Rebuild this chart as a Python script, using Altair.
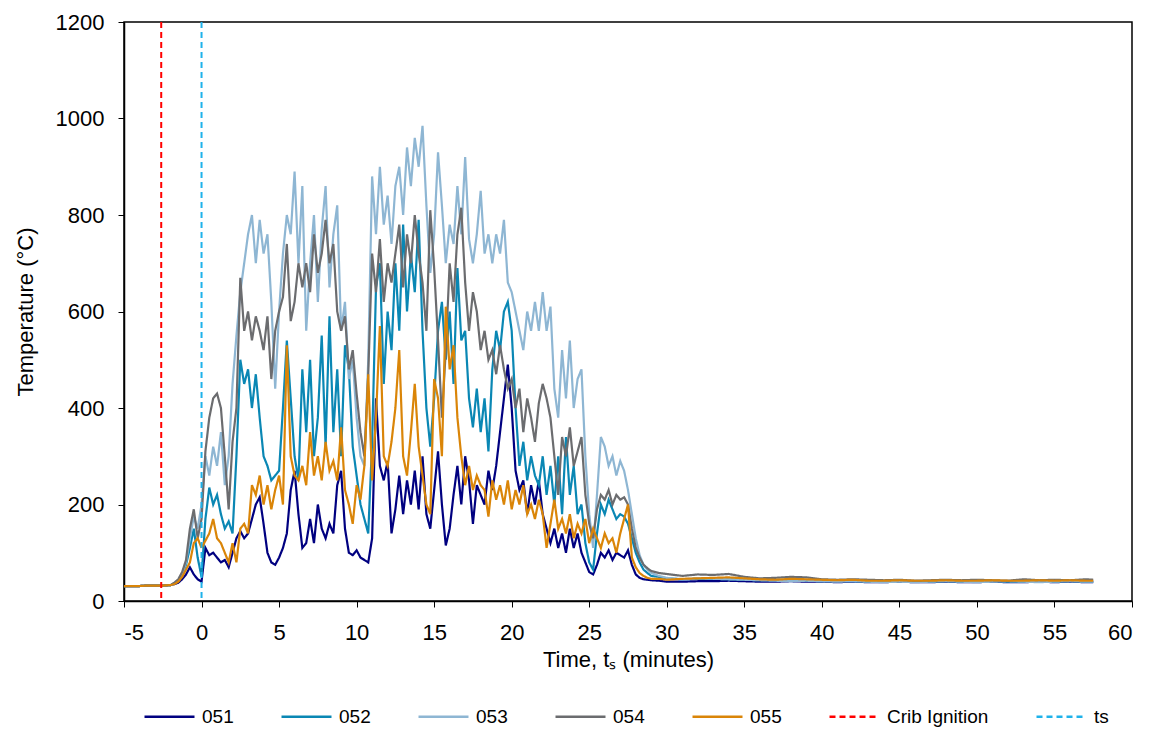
import altair as alt
import numpy as np
import pandas as pd

# ---- time grids (minutes, relative to ts) ----
t_lead = [-5.0, -4.5, -4.0, -3.5, -3.0, -2.5]
t_fire = [round(v, 2) for v in np.arange(-2.0, 29.01, 0.25)]
t_tail = [29.5] + [float(v) for v in range(30, 58)] + [57.5]

series_names = ["051", "052", "053", "054", "055"]

lead_051 = [31, 31, 31, 32, 32, 32]
lead_052 = [31, 31, 31, 32, 32, 32]
lead_053 = [31, 31, 31, 32, 32, 32]
lead_054 = [31, 31, 31, 32, 32, 32]
lead_055 = [31, 31, 31, 32, 32, 32]

fire_051 = [33, 35, 38, 45, 55, 70, 55, 45,
            40, 110, 95, 100, 90, 80, 85, 70,
            100, 130, 145, 130, 140, 170, 200, 215,
            160, 100, 80, 75, 90, 110, 140, 230,
            270, 180, 110, 120, 170, 120, 200, 150,
            130, 160, 140, 240, 270, 150, 100, 95,
            105, 90, 85, 80, 130, 420, 280, 250,
            290, 140, 190, 260, 180, 250, 200, 270,
            190, 300, 180, 150, 230, 310, 200, 115,
            150, 220, 280, 200, 300, 250, 160, 240,
            220, 200, 270, 230, 280, 350, 420, 490,
            400, 270, 230, 250, 180, 240, 200, 250,
            180, 150, 120, 150, 110, 140, 100, 150,
            110, 140, 100, 80, 60, 55, 75, 100,
            90, 105, 85, 100, 95, 90, 105, 75,
            55, 48, 45, 44, 43]

fire_052 = [33, 36, 42, 55, 75, 110, 150, 90,
            50, 170, 235, 200, 220, 180, 150, 165,
            140, 300, 500, 450, 480, 400, 470, 380,
            300, 280, 250, 260, 270, 400, 540, 420,
            300, 250, 480, 350, 500, 300, 380, 550,
            320, 590, 350, 480, 300, 530, 480, 320,
            260, 200, 170, 140, 330, 650, 700, 450,
            600, 520, 700, 560, 780, 600, 720, 640,
            790, 560, 400, 320, 420, 560, 620, 500,
            600, 450, 690, 540, 560, 420, 360, 440,
            350, 420, 310, 480, 560, 520, 600, 620,
            560, 400, 280, 330, 250, 300, 260, 240,
            300, 220, 280, 200, 300, 180, 340, 220,
            280, 180, 200, 120, 80, 65, 140, 200,
            180, 210, 190, 170, 180, 175, 160, 130,
            100, 80, 65, 58, 52]

fire_053 = [33, 36, 42, 55, 80, 130, 175, 150,
            200, 300, 260, 320, 280, 350, 240, 300,
            450, 550, 640, 700, 760, 800, 700, 790,
            720, 760, 620, 440, 600, 720, 800, 760,
            890, 700, 860, 560, 700, 800, 620, 770,
            860, 650, 760, 820, 560, 620, 460, 500,
            380, 300, 280, 500, 880, 760, 900, 780,
            840, 740, 860, 900, 800, 940, 860, 960,
            900, 985, 820, 680, 760, 930, 820, 700,
            780, 740, 860, 760, 920, 750, 700, 760,
            850, 720, 760, 700, 760, 720, 790, 660,
            640, 600, 560, 520, 600, 560, 620, 560,
            640, 560, 610, 440, 380, 520, 420, 540,
            400, 460, 480, 300, 180, 110, 220, 340,
            320, 280, 300, 260, 290, 270, 230, 180,
            130, 95, 75, 65, 58]

fire_054 = [33, 38, 45, 60, 85, 150, 190, 130,
            170, 310, 380, 420, 430, 400, 300, 190,
            330, 400, 670, 560, 600, 540, 590, 560,
            520, 590, 460, 560, 600, 630, 740, 580,
            620, 700, 650, 700, 640, 760, 680, 720,
            790, 700, 740, 600, 560, 590, 480, 520,
            430, 350, 300, 470, 720, 640, 750, 620,
            700, 660, 720, 780, 650, 760, 700, 800,
            720, 660, 560, 810, 690, 540, 380, 520,
            700, 620, 760, 815, 660, 560, 640, 600,
            520, 560, 500, 520, 470, 530, 480, 440,
            460, 400, 440, 350, 420, 380, 330, 410,
            450, 420, 380, 300, 220, 340, 300, 360,
            280, 310, 340, 220, 160, 130, 190, 220,
            210, 230, 200, 220, 210, 215, 200, 150,
            110, 90, 75, 68, 62]

fire_055 = [33, 35, 40, 50, 65, 80, 120, 130,
            110, 125, 140, 170, 130, 120, 100, 80,
            120, 80, 150, 160, 140, 240, 220, 260,
            200, 240, 190, 230, 260, 200, 530, 300,
            260, 250, 280, 240, 350, 260, 300, 250,
            330, 270, 290, 250, 360, 230, 200, 160,
            240, 210, 280, 470, 250, 380, 570, 300,
            280, 330, 400, 520, 300, 260, 350, 450,
            320, 260, 200, 180, 460, 420, 300, 610,
            480, 530, 380, 300, 240, 280, 230, 260,
            240, 230, 175, 250, 210, 240, 200, 250,
            190, 230, 200, 240, 180, 200, 170, 210,
            180, 110, 160, 210, 150, 170, 140, 180,
            130, 160, 140, 170, 120, 150, 130, 110,
            140, 120, 130, 100, 140, 170, 200, 90,
            70, 58, 52, 48, 46]

tail_051 = [42, 40, 40, 41, 41, 42, 41, 40, 40, 41, 40, 40, 39, 40, 39,
            39, 40, 39, 39, 40, 39, 39, 40, 39, 39, 40, 39, 40, 39, 39]
tail_052 = [50, 47, 45, 46, 46, 45, 44, 43, 43, 42, 42, 41, 41, 41, 40,
            40, 41, 40, 40, 41, 40, 40, 41, 40, 40, 41, 40, 41, 40, 40]
tail_053 = [52, 48, 45, 47, 46, 45, 44, 43, 42, 41, 42, 41, 40, 41, 40,
            39, 40, 39, 40, 41, 40, 39, 40, 41, 40, 39, 40, 41, 40, 40]
tail_054 = [58, 56, 52, 55, 54, 56, 50, 47, 48, 50, 49, 45, 44, 45, 44,
            43, 44, 42, 43, 44, 43, 44, 43, 42, 45, 43, 44, 43, 45, 44]
tail_055 = [46, 44, 46, 47, 48, 49, 47, 45, 44, 46, 45, 44, 43, 44, 42,
            42, 43, 42, 42, 43, 42, 42, 43, 42, 42, 43, 42, 43, 42, 42]

crib_ignition_time = -2.6
ts_time = 0.0

legend_names = series_names + ["Crib Ignition", "ts"]
legend_colors = ["#000080", "#0A87B4", "#8EB6D3", "#6B6C6F", "#DA8508", "#FF0000", "#1FB2EA"]
legend_dashes = [[1, 0]] * 5 + [[6, 4], [6, 4]]

# ---- assemble long table ----
times = t_lead + t_fire + t_tail
all_vals = {
    "051": lead_051 + fire_051 + tail_051,
    "052": lead_052 + fire_052 + tail_052,
    "053": lead_053 + fire_053 + tail_053,
    "054": lead_054 + fire_054 + tail_054,
    "055": lead_055 + fire_055 + tail_055,
}
rows = []
for name in series_names:
    vals = all_vals[name]
    assert len(vals) == len(times), (name, len(vals), len(times))
    for t, v in zip(times, vals):
        rows.append({"t": t, "temp": v, "series": name})
df = pd.DataFrame(rows)

rules_df = pd.DataFrame({"t": [crib_ignition_time, ts_time], "series": ["Crib Ignition", "ts"]})

FONT = "Liberation Sans"

color_scale = alt.Scale(domain=legend_names, range=legend_colors)
dash_scale = alt.Scale(domain=legend_names, range=legend_dashes)
leg = alt.Legend(title=None)

x_enc = alt.X(
    "t:Q",
    scale=alt.Scale(domain=[-5, 60], nice=False, zero=False),
    axis=alt.Axis(values=list(range(-5, 61, 5)), title="Time, tₛ (minutes)", labelExpr="datum.value"),
)
y_enc = alt.Y(
    "temp:Q",
    scale=alt.Scale(domain=[0, 1200], nice=False),
    axis=alt.Axis(values=list(range(0, 1201, 200)), title="Temperature (°C)", labelExpr="datum.value"),
)

lines = alt.Chart(df).mark_line(strokeWidth=2.2).encode(
    x=x_enc,
    y=y_enc,
    color=alt.Color("series:N", scale=color_scale, legend=leg),
    strokeDash=alt.StrokeDash("series:N", scale=dash_scale, legend=leg),
)

rules = alt.Chart(rules_df).mark_rule(strokeWidth=2).encode(
    x=alt.X("t:Q"),
    color=alt.Color("series:N", scale=color_scale, legend=leg),
    strokeDash=alt.StrokeDash("series:N", scale=dash_scale, legend=leg),
)

chart = (
    alt.layer(lines, rules)
    .properties(
        width=1008,
        height=579,
        autosize="none",
        padding={"left": 116, "top": 14, "right": 14, "bottom": 127},
    )
    .configure_view(stroke="black", strokeWidth=1.5)
    .configure_axis(
        grid=False,
        labelFont=FONT,
        titleFont=FONT,
        labelFontSize=22,
        titleFontSize=22,
        titleFontWeight="normal",
        labelColor="black",
        titleColor="black",
        domainColor="black",
        domainWidth=1.5,
        tickColor="black",
        tickSize=6,
        tickWidth=1,
    )
    .configure_axisY(labelPadding=14, titlePadding=18)
    .configure_axisX(labelPadding=15, titlePadding=6)
    .configure_legend(
        orient="none",
        legendX=19,
        legendY=668,
        direction="horizontal",
        columns=7,
        symbolType="stroke",
        symbolSize=2500,
        symbolStrokeWidth=2.5,
        labelFont=FONT,
        labelFontSize=19,
        labelColor="black",
        labelOffset=6,
        columnPadding=42,
        padding=0,
    )
)

chart.save("out.html", embed_options={"renderer": "svg", "actions": False})
